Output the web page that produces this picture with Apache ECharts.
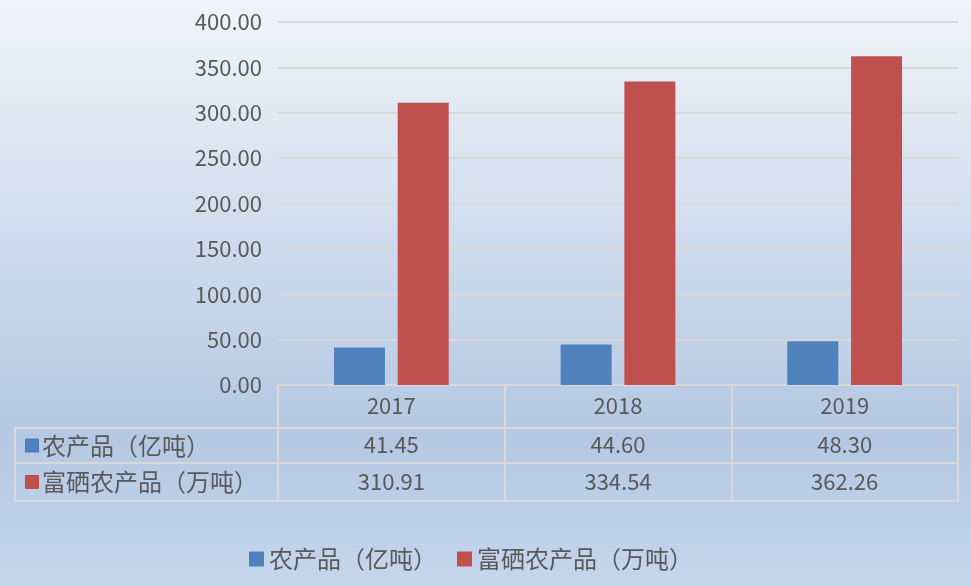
<!DOCTYPE html>
<html>
<head>
<meta charset="utf-8">
<script src="https://cdn.jsdelivr.net/npm/echarts@6/dist/echarts.min.js"></script>
<style>
html,body{margin:0;padding:0;}
#c{width:971px;height:586px;}
</style>
</head>
<body>
<div id="c"></div>
<script>
const categories = ['2017', '2018', '2019'];
const seriesNames = ['农产品（亿吨）', '富硒农产品（万吨）'];
const produce = [41.45, 44.60, 48.30];
const seleniumProduce = [310.91, 334.54, 362.26];
const yTicks = { min: 0, max: 400, interval: 50 };

const colors = ['#4f81bd', '#c0504d'];
const textColor = '#595959';
const lineColor = '#d9d9d9';
const font = 'Noto Sans CJK SC';

function rowName(i, h) {
  return {
    name: '{s| }{g| }{t|' + seriesNames[i] + '}',
    nameLocation: 'start',
    nameGap: 263,
    nameTextStyle: {
      align: 'left',
      verticalAlign: 'top',
      padding: [0, 0, 0, 10],
      borderColor: lineColor,
      borderWidth: 2,
      rich: {
        s: { width: 14, height: 14, backgroundColor: colors[i], fontSize: 10, lineHeight: h },
        g: { width: 3, fontSize: 10, lineHeight: h },
        t: { width: 236, fontSize: 24, color: textColor, fontFamily: font, lineHeight: h }
      }
    }
  };
}

const chart = echarts.init(document.getElementById('c'));
chart.setOption({
  backgroundColor: {
    type: 'linear', x: 0, y: 0, x2: 0, y2: 1,
    colorStops: [
      { offset: 0, color: '#f1f4f9' },
      { offset: 0.74, color: '#b4c8e3' },
      { offset: 1, color: '#c5d6ec' }
    ]
  },
  textStyle: { fontFamily: font },
  animation: false,
  grid: { left: 278, right: 13, top: 22, bottom: 201, containLabel: false },
  legend: {
    left: 244, top: 542,
    itemWidth: 15, itemHeight: 15, itemGap: 20,
    icon: 'rect',
    textStyle: { fontSize: 24, color: textColor, fontFamily: font },
    data: seriesNames
  },
  yAxis: {
    type: 'value',
    min: yTicks.min, max: yTicks.max, interval: yTicks.interval,
    axisLine: { show: false },
    axisTick: { show: false },
    splitLine: { lineStyle: { color: lineColor, width: 2 } },
    axisLabel: {
      margin: 16, fontSize: 22, color: textColor, fontFamily: font,
      formatter: v => v.toFixed(2)
    }
  },
  xAxis: [
    {
      type: 'category', data: categories, position: 'bottom', offset: 0,
      axisLine: { lineStyle: { color: lineColor, width: 2 } },
      axisTick: { show: true, length: 43, interval: 0, lineStyle: { color: lineColor, width: 2 } },
      axisLabel: { margin: 21, verticalAlign: 'middle', fontSize: 22, color: textColor, fontFamily: font, interval: 0 }
    },
    Object.assign({
      type: 'category', data: produce.map(v => v.toFixed(2)), position: 'bottom', offset: 43,
      axisLine: { lineStyle: { color: lineColor, width: 2 } },
      axisTick: { show: true, length: 35, interval: 0, lineStyle: { color: lineColor, width: 2 } },
      axisLabel: { margin: 17, verticalAlign: 'middle', fontSize: 22, color: textColor, fontFamily: font, interval: 0 }
    }, rowName(0, 35)),
    Object.assign({
      type: 'category', data: seleniumProduce.map(v => v.toFixed(2)), position: 'bottom', offset: 78,
      axisLine: { lineStyle: { color: lineColor, width: 2 } },
      axisTick: { show: true, length: 38, interval: 0, lineStyle: { color: lineColor, width: 2 } },
      axisLabel: { margin: 19, verticalAlign: 'middle', fontSize: 22, color: textColor, fontFamily: font, interval: 0 }
    }, rowName(1, 38)),
    {
      type: 'category', data: categories, position: 'bottom', offset: 116,
      axisLine: { lineStyle: { color: lineColor, width: 2 } },
      axisTick: { show: false },
      axisLabel: { show: false }
    }
  ],
  series: [
    {
      name: seriesNames[0], type: 'bar', xAxisIndex: 0, data: produce,
      barWidth: 51, barGap: '25%',
      itemStyle: { color: colors[0] }
    },
    {
      name: seriesNames[1], type: 'bar', xAxisIndex: 0, data: seleniumProduce,
      barWidth: 51, barGap: '25%',
      itemStyle: { color: colors[1] }
    }
  ]
});
</script>
</body>
</html>
